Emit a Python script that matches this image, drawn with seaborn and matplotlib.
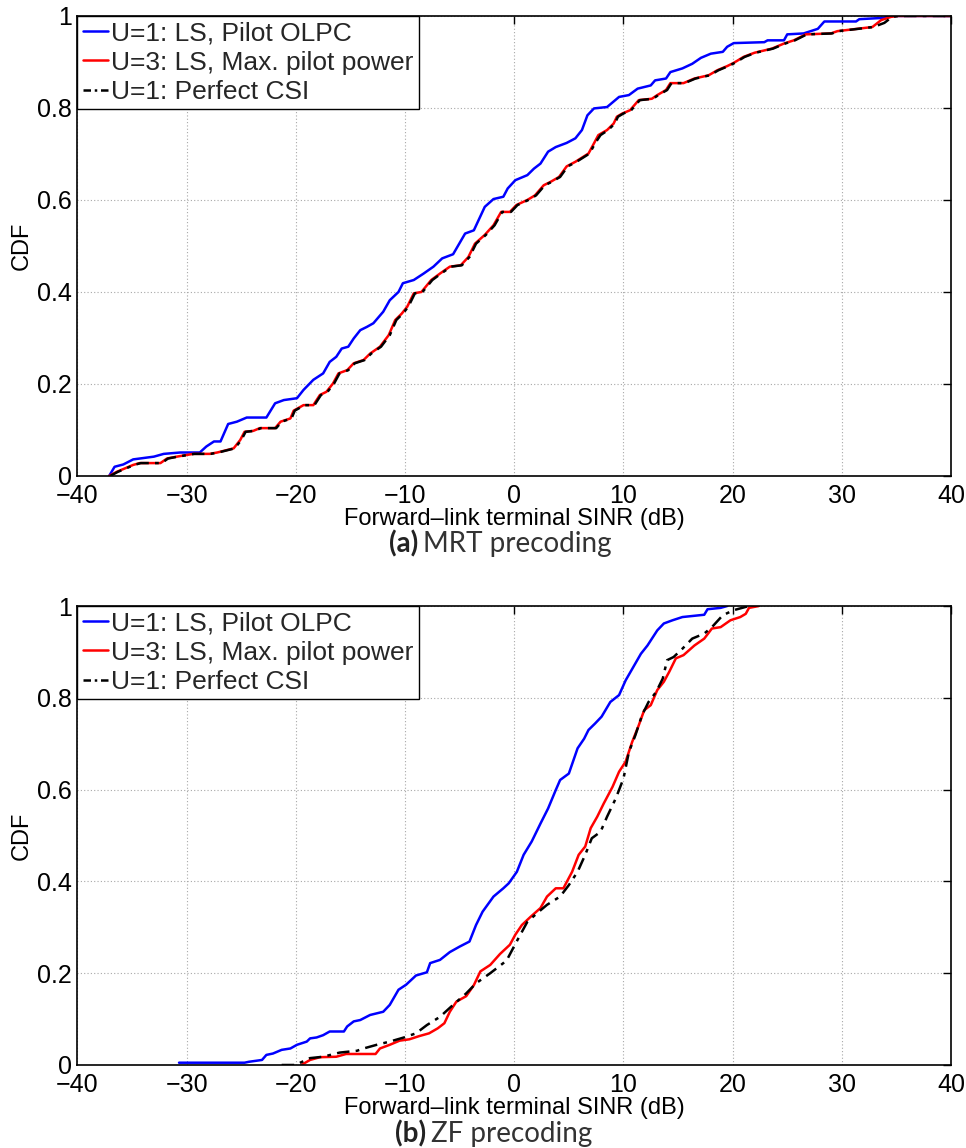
import matplotlib
matplotlib.use("Agg")
import matplotlib.pyplot as plt
import seaborn as sns

# ---------------- data ----------------
labels = ["U=1: LS, Pilot OLPC", "U=3: LS, Max. pilot power", "U=1: Perfect CSI"]
x_ticks = [-40, -30, -20, -10, 0, 10, 20, 30, 40]
y_ticks = [0, 0.2, 0.4, 0.6, 0.8, 1.0]
y_ticklabels = ["0", "0.2", "0.4", "0.6", "0.8", "1"]

# (a) MRT precoding
mrt_olpc_x = [-37.1, -36.6, -35.8, -34.9, -33.0, -32.1, -30.6, -28.8, -28.2, -27.5,
              -26.9, -26.2, -25.4, -24.5, -22.7, -21.9, -21.1, -19.9, -19.3, -18.4,
              -17.5, -16.9, -16.3, -15.8, -15.2, -14.7, -14.1, -13.5, -12.9, -12.0,
              -11.4, -10.6, -10.2, -9.2, -8.3, -7.4, -6.6, -5.6, -4.5, -3.7,
              -2.7, -1.9, -1.0, -0.6, 0.1, 1.2, 1.8, 2.4, 3.1, 3.8,
              4.8, 5.6, 6.2, 6.7, 7.3, 8.5, 9.6, 10.5, 11.3, 12.5,
              12.9, 13.9, 14.3, 15.4, 16.3, 17.1, 18.0, 19.1, 19.5, 20.1,
              22.9, 23.2, 24.7, 25.0, 26.5, 27.8, 28.4, 31.3, 31.6, 33.9, 34.3, 40]
mrt_olpc_y = [0, 0.020, 0.025, 0.036, 0.042, 0.048, 0.051, 0.051, 0.064, 0.075,
              0.075, 0.113, 0.118, 0.127, 0.127, 0.158, 0.165, 0.169, 0.187, 0.209,
              0.223, 0.248, 0.259, 0.277, 0.281, 0.299, 0.317, 0.324, 0.332, 0.357,
              0.382, 0.400, 0.419, 0.426, 0.440, 0.455, 0.473, 0.482, 0.527, 0.534,
              0.585, 0.602, 0.607, 0.625, 0.643, 0.654, 0.668, 0.679, 0.705, 0.715,
              0.724, 0.734, 0.752, 0.784, 0.799, 0.802, 0.824, 0.828, 0.842, 0.849,
              0.860, 0.864, 0.878, 0.886, 0.896, 0.909, 0.918, 0.922, 0.933, 0.941,
              0.943, 0.947, 0.947, 0.960, 0.962, 0.972, 0.988, 0.988, 0.993, 0.996, 1.0, 1.0]

mrt_max_x = [-37.1, -36.4, -35.6, -34.9, -34.3, -32.4, -31.8, -30.9, -29.4, -27.9,
             -27.2, -25.7, -25.1, -24.7, -23.9, -23.3, -21.9, -21.4, -20.5, -20.2,
             -19.3, -18.4, -17.8, -17.2, -16.6, -16.1, -15.3, -14.7, -13.8, -13.2,
             -12.3, -11.5, -10.9, -10.3, -9.8, -9.2, -8.5, -7.6, -6.8, -5.9,
             -4.9, -4.2, -3.6, -2.7, -1.9, -1.2, -0.4, 0.2, 1.2, 1.9,
             2.7, 3.3, 4.1, 4.8, 5.6, 6.8, 7.3, 7.7, 8.5, 9.1,
             9.4, 9.9, 10.6, 11.4, 12.6, 13.1, 13.9, 14.3, 15.5, 16.5,
             17.8, 18.6, 19.5, 20.1, 21.0, 22.0, 23.6, 24.7, 25.6, 26.7,
             29.0, 29.6, 31.4, 32.8, 33.6, 34.5, 35.1, 40]
mrt_max_y = [0, 0.009, 0.017, 0.024, 0.028, 0.028, 0.038, 0.042, 0.048, 0.048,
             0.051, 0.060, 0.078, 0.096, 0.098, 0.104, 0.104, 0.118, 0.125, 0.142,
             0.154, 0.154, 0.176, 0.183, 0.201, 0.223, 0.230, 0.245, 0.252, 0.266,
             0.281, 0.306, 0.339, 0.353, 0.368, 0.397, 0.400, 0.426, 0.440, 0.455,
             0.458, 0.476, 0.505, 0.524, 0.545, 0.574, 0.574, 0.589, 0.600, 0.610,
             0.632, 0.639, 0.650, 0.673, 0.683, 0.701, 0.723, 0.741, 0.752, 0.766,
             0.781, 0.788, 0.795, 0.817, 0.820, 0.828, 0.839, 0.854, 0.854, 0.864,
             0.871, 0.882, 0.891, 0.898, 0.911, 0.920, 0.929, 0.940, 0.947, 0.960,
             0.962, 0.967, 0.972, 0.976, 0.991, 0.998, 1.0, 1.0]

mrt_csi_x = [-37.0, -36.3, -35.5, -34.8, -34.2, -32.3, -31.7, -30.8, -29.3, -27.8,
             -27.1, -25.6, -25.0, -24.6, -23.8, -23.2, -21.8, -21.3, -20.4, -20.1,
             -19.2, -18.3, -17.7, -17.1, -16.5, -16.0, -15.2, -14.6, -13.7, -13.1,
             -12.2, -11.4, -10.8, -10.2, -9.7, -9.1, -8.4, -7.5, -6.7, -5.8,
             -4.8, -4.1, -3.5, -2.6, -1.8, -1.1, -0.3, 0.3, 1.3, 2.0,
             2.8, 3.4, 4.2, 4.9, 5.7, 6.9, 7.4, 7.9, 8.6, 9.2,
             9.5, 10.0, 10.7, 11.5, 12.7, 13.2, 14.0, 14.4, 15.6, 16.6,
             17.9, 18.7, 19.6, 20.2, 21.1, 22.1, 23.7, 24.8, 25.7, 26.8,
             29.1, 29.7, 31.5, 32.9, 33.9, 34.6, 35.2, 40]
mrt_csi_y = [0, 0.009, 0.017, 0.024, 0.028, 0.028, 0.038, 0.042, 0.048, 0.048,
             0.051, 0.060, 0.078, 0.096, 0.098, 0.104, 0.104, 0.118, 0.125, 0.142,
             0.154, 0.154, 0.176, 0.183, 0.201, 0.223, 0.230, 0.245, 0.252, 0.266,
             0.281, 0.306, 0.339, 0.353, 0.368, 0.397, 0.400, 0.426, 0.440, 0.455,
             0.458, 0.476, 0.505, 0.524, 0.545, 0.574, 0.574, 0.589, 0.600, 0.610,
             0.632, 0.639, 0.650, 0.673, 0.683, 0.701, 0.723, 0.741, 0.752, 0.766,
             0.781, 0.788, 0.795, 0.817, 0.820, 0.828, 0.839, 0.854, 0.854, 0.864,
             0.871, 0.882, 0.891, 0.898, 0.911, 0.920, 0.929, 0.940, 0.947, 0.960,
             0.962, 0.967, 0.972, 0.976, 0.985, 0.998, 1.0, 1.0]

# (b) ZF precoding
zf_olpc_x = [-30.7, -24.7, -24.3, -23.1, -22.7, -22.1, -21.3, -20.5, -19.9, -19.0,
             -18.7, -18.1, -17.5, -16.9, -15.6, -15.3, -14.7, -14.1, -13.2, -12.0,
             -11.4, -10.6, -9.9, -9.0, -8.0, -7.7, -6.8, -5.9, -5.0, -4.1,
             -3.5, -2.9, -1.9, -1.0, -0.5, 0.24, 0.86, 1.6, 2.4, 3.1,
             3.8, 4.2, 5.0, 5.8, 6.4, 6.8, 7.4, 8.0, 8.8, 9.6,
             10.2, 10.9, 11.6, 12.2, 13.1, 13.7, 14.5, 15.4, 17.4, 17.7, 18.9, 19.5]
zf_olpc_y = [0.005, 0.005, 0.007, 0.011, 0.022, 0.025, 0.033, 0.036, 0.044, 0.051,
             0.058, 0.060, 0.065, 0.073, 0.073, 0.084, 0.095, 0.098, 0.109, 0.116,
             0.131, 0.164, 0.175, 0.195, 0.202, 0.222, 0.229, 0.246, 0.258, 0.269,
             0.305, 0.334, 0.367, 0.385, 0.396, 0.421, 0.458, 0.487, 0.526, 0.559,
             0.599, 0.621, 0.635, 0.690, 0.711, 0.730, 0.744, 0.759, 0.791, 0.806,
             0.838, 0.867, 0.896, 0.914, 0.947, 0.962, 0.969, 0.976, 0.981, 0.993, 0.996, 1.0]

zf_max_x = [-19.5, -18.7, -17.8, -16.3, -15.4, -12.7, -12.3, -11.4, -10.5, -9.6,
            -8.7, -7.8, -7.0, -6.4, -5.9, -5.3, -4.4, -3.7, -3.1, -2.2,
            -1.3, -0.4, 0.1, 0.7, 1.5, 2.4, 3.0, 3.8, 4.5, 5.3,
            5.9, 6.5, 7.0, 7.6, 8.2, 9.0, 9.6, 10.2, 10.8, 11.4,
            11.9, 12.5, 13.1, 13.7, 14.2, 14.8, 15.5, 16.5, 17.4, 18.1,
            18.9, 19.8, 20.7, 21.2, 21.5, 22.4]
zf_max_y = [0, 0.011, 0.017, 0.018, 0.024, 0.024, 0.036, 0.044, 0.053, 0.056,
            0.063, 0.069, 0.080, 0.091, 0.116, 0.138, 0.150, 0.174, 0.204, 0.218,
            0.242, 0.262, 0.284, 0.305, 0.323, 0.342, 0.367, 0.385, 0.385, 0.421,
            0.458, 0.476, 0.516, 0.541, 0.570, 0.606, 0.639, 0.661, 0.704, 0.740,
            0.773, 0.784, 0.817, 0.835, 0.857, 0.886, 0.893, 0.914, 0.929, 0.951,
            0.954, 0.969, 0.976, 0.983, 0.996, 1.0]

zf_csi_x = [-21.3, -20.0, -19.6, -18.7, -17.5, -16.0, -14.4, -13.8, -12.6, -11.4,
            -10.1, -9.0, -8.0, -6.8, -5.6, -4.4, -3.5, -2.2, -1.0, -0.67,
            0.24, 1.2, 2.1, 3.0, 4.2, 5.0, 5.8, 6.5, 7.1, 7.9,
            8.5, 9.3, 10.0, 10.5, 11.1, 11.7, 12.3, 13.0, 13.6, 14.0,
            14.6, 15.4, 16.3, 17.4, 18.1, 19.1, 20.1, 21.5]
zf_csi_y = [0, 0, 0.005, 0.015, 0.018, 0.027, 0.031, 0.036, 0.044, 0.051,
            0.060, 0.069, 0.087, 0.105, 0.131, 0.156, 0.178, 0.200, 0.222, 0.229,
            0.270, 0.312, 0.331, 0.349, 0.367, 0.392, 0.421, 0.458, 0.494, 0.508,
            0.541, 0.581, 0.624, 0.682, 0.719, 0.762, 0.791, 0.813, 0.842, 0.882,
            0.889, 0.907, 0.929, 0.940, 0.954, 0.980, 0.991, 1.0]

xlabel = "Forward\u2013link terminal SINR (dB)"
ylabel = "CDF"
captions = [("(a)", "MRT precoding"), ("(b)", "ZF precoding")]

# ---------------- drawing ----------------
sns.set_theme(style="white")
plt.rcParams["font.family"] = ["Liberation Sans", "DejaVu Sans"]
plt.rcParams["axes.unicode_minus"] = True

fig = plt.figure(figsize=(9.66, 11.48), dpi=100)
ax1 = fig.add_axes([0.0802, 0.5854, 0.9043, 0.4007])
ax2 = fig.add_axes([0.0802, 0.0723, 0.9043, 0.3998])

panels = [
    (ax1, (mrt_olpc_x, mrt_olpc_y), (mrt_max_x, mrt_max_y), (mrt_csi_x, mrt_csi_y)),
    (ax2, (zf_olpc_x, zf_olpc_y), (zf_max_x, zf_max_y), (zf_csi_x, zf_csi_y)),
]

for ax, s1, s2, s3 in panels:
    sns.lineplot(x=s1[0], y=s1[1], ax=ax, color="#0000ff", lw=1.8,
                 sort=False, estimator=None, label=labels[0])
    sns.lineplot(x=s2[0], y=s2[1], ax=ax, color="#ff0000", lw=1.8,
                 sort=False, estimator=None, label=labels[1])
    sns.lineplot(x=s3[0], y=s3[1], ax=ax, color="black", lw=1.8,
                 sort=False, estimator=None, label=labels[2], linestyle="-.")
    ax.lines[2].set_dashes([5, 2.5, 1.5, 2.5])

    ax.set_xlim(-40, 40)
    ax.set_ylim(0, 1)
    ax.set_xticks(x_ticks)
    ax.set_yticks(y_ticks)
    ax.set_yticklabels(y_ticklabels)
    ax.grid(True, linestyle=(0, (1, 2)), color="#a8a8a8", lw=0.8)
    ax.tick_params(direction="in", top=True, right=True, length=6, width=1,
                   labelsize=18, colors="black")
    ax.tick_params(axis="x", pad=6)
    ax.tick_params(axis="y", pad=4)
    for sp in ax.spines.values():
        sp.set_color("black")
        sp.set_linewidth(1.2)
    ax.set_xlabel(xlabel, fontsize=17, labelpad=0, color="black")
    ax.set_ylabel(ylabel, fontsize=17, labelpad=3, color="black")

    leg = ax.legend(loc="upper left", bbox_to_anchor=(0, 1), borderaxespad=0,
                    fontsize=19, frameon=True, fancybox=False, framealpha=1,
                    edgecolor="black", handlelength=0.95, handletextpad=0.12,
                    borderpad=0.2, labelspacing=0.2)
    leg.get_frame().set_linewidth(1.0)
    leg.legend_handles[2].set_dashes([3, 1.5, 1, 1.5])

cap_y = [1 - 552 / 1148, 1 - 1142 / 1148]
cap_split = [418 / 966, 426 / 966]
for (bold, rest), y, xs in zip(captions, cap_y, cap_split):
    fig.text(xs, y, bold, ha="right", va="baseline", fontsize=20,
             fontweight="bold", family=["Lato", "DejaVu Sans"], color="#222222")
    fig.text(xs + 5 / 966, y, rest, ha="left", va="baseline", fontsize=20,
             family=["Lato", "DejaVu Sans"], color="#333333")

fig.savefig("out.png", dpi=100)
